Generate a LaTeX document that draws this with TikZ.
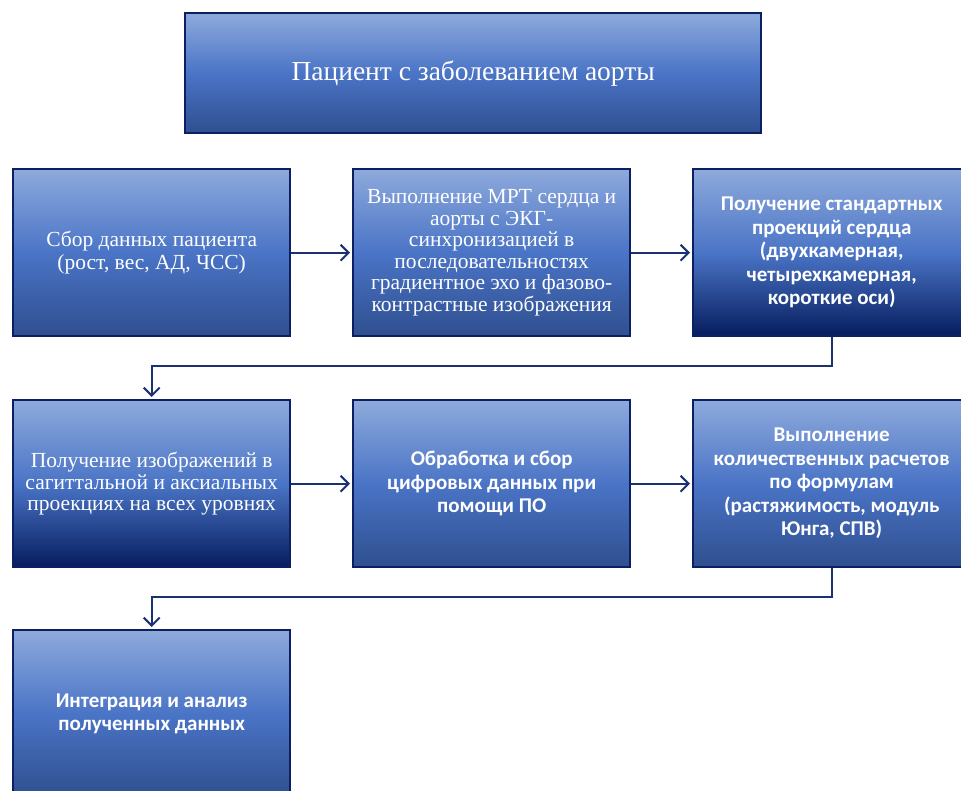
\documentclass[tikz,border=0pt]{standalone}
\usepackage{fontspec}
\setmainfont{Liberation Serif}
\newfontfamily\calfont{Carlito}
\usetikzlibrary{arrows.meta}
\definecolor{boxtop}{HTML}{8EAADC}
\definecolor{boxmid}{HTML}{4A74C6}
\definecolor{boxlow}{HTML}{2F4F8F}
\definecolor{boxnavy}{HTML}{061D5E}
\definecolor{edgecol}{HTML}{0C1F63}
\definecolor{arrcol}{HTML}{1A3370}
\tikzset{
  x=1pt, y=-1pt,
  box/.style={draw=edgecol, line width=2.4pt, anchor=north west, inner sep=0pt,
    minimum width=277pt, minimum height=167pt, text=white, align=center,
    top color=boxtop, bottom color=boxlow, middle color=boxmid},
  darkbox/.style={box, top color=boxtop, bottom color=boxnavy, middle color=boxmid},
  serifA/.style={font=\fontsize{21.5}{23}\selectfont},
  serifB/.style={font=\fontsize{21.5}{21.5}\selectfont},
  sansA/.style={font=\calfont\bfseries\fontsize{21}{23.5}\selectfont},
  conn/.style={draw=arrcol, line width=2pt},
  arr/.style={conn, -{Straight Barb[length=8pt,width=16pt,line width=2pt]}, shorten >=2pt},
}
\begin{document}
\begin{tikzpicture}
\useasboundingbox (0,0) rectangle (961,791);
\node[box, minimum width=576pt, minimum height=120pt, font=\fontsize{27.5}{30}\selectfont] (top) at (184,12) {Пациент с заболеванием аорты};
\node[box, serifA] (a) at (12,168) {Сбор данных пациента\\(рост, вес, АД, ЧСС)};
\node[box, serifB] (b) at (352,168) {Выполнение МРТ сердца и\\аорты с ЭКГ-\\синхронизацией в\\последовательностях\\градиентное эхо и фазово-\\контрастные изображения};
\node[darkbox, sansA] (c) at (692,168) {Получение стандартных\\проекций сердца\\(двухкамерная,\\четырехкамерная,\\короткие оси)};
\node[darkbox, serifB] (d) at (12,399) {Получение изображений в\\сагиттальной и аксиальных\\проекциях на всех уровнях};
\node[box, sansA] (e) at (352,399) {Обработка и сбор\\цифровых данных при\\помощи ПО};
\node[box, sansA] (f) at (692,399) {Выполнение\\количественных расчетов\\по формулам\\(растяжимость, модуль\\Юнга, СПВ)};
\node[box, sansA] (g) at (12,629) {Интеграция и анализ\\полученных данных};
\coordinate (k1) at (0,366);
\coordinate (k2) at (0,597);
\draw[arr] (a.east) -- (b.west);
\draw[arr] (b.east) -- (c.west);
\draw[arr] (d.east) -- (e.west);
\draw[arr] (e.east) -- (f.west);
\draw[arr] (c.south) -- (c.south |- k1) -- (a.south |- k1) -- (d.north);
\draw[arr] (f.south) -- (f.south |- k2) -- (d.south |- k2) -- (g.north);
\end{tikzpicture}
\end{document}
